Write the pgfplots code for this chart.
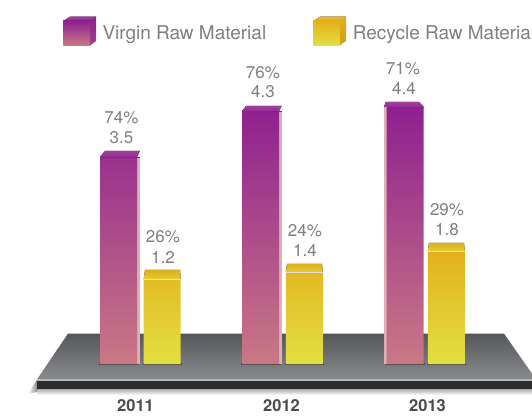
\documentclass[border=0pt]{standalone}
\usepackage{fontspec}
\setmainfont{TeX Gyre Heros}
\usepackage{pgfplots}
\usepackage{pgfplotstable}
\pgfplotsset{compat=1.18}
\definecolor{purT}{HTML}{8E2090}
\definecolor{purB}{HTML}{CA7885}
\definecolor{yelT}{HTML}{E4B01C}
\definecolor{yelB}{HTML}{E2E042}
\definecolor{lab}{HTML}{7F7F7F}
\definecolor{band}{HTML}{2C2E2D}
\definecolor{platT}{HTML}{565758}
\definecolor{platB}{HTML}{8A8B8F}
\definecolor{topP}{HTML}{A0409A}
\definecolor{shad}{HTML}{A8A39C}
% x centre of bar, bar height as drawn in the picture (value labels printed beside)
\pgfplotstableread{
x height
118.5 207
260.5 253
405.2 257
}\virgin
\pgfplotstableread{
x height
162.2 85
304.3 92
446.3 113
}\recycle
\begin{document}
\begin{tikzpicture}
\useasboundingbox (0,0) rectangle (532pt,415pt);
\clip (0,0) rectangle (532pt,415pt);
\begin{axis}[at={(0,0)},anchor=south west,x=1pt,y=1pt,xmin=0,xmax=532,ymin=-51,ymax=364,
  hide axis,clip=false,scale only axis,ybar,bar shift=0pt,bar width=37]
% platform
\shade[top color=shad,bottom color=white] (37,-24.5) rectangle (532,-31);
\shade[left color=white,right color=black!45] (28,-30) -- (37,-15.4) -- (37,-28) -- cycle;
\shade[top color=platT,bottom color=platB] (68,30.4) -- (504,30.4) -- (536,-15.4) -- (37,-15.4) -- cycle;
\fill[black!28] (37,-15.4) rectangle (532,-17);
\fill[band] (37,-17) rectangle (532,-24.5);
% base shadows
\fill[black!70] (98.8,-1) rectangle (139,1);
\fill[black!70] (142.8,-1) rectangle (182,1);
\fill[black!70] (241,-1) rectangle (281,1);
\fill[black!70] (285.3,-1) rectangle (323.5,1);
\fill[black!70] (385,-1) rectangle (425,1);
\fill[black!70] (427,-1) rectangle (466,1);
% side faces
\fill[purB!60!white] (137,0) rectangle (139.8,207);
\fill[purB!60!white] (278,0) rectangle (281.7,253);
\fill[purB!60!white] (384.3,0) rectangle (387,257);
\addplot[draw=none,top color=purT,bottom color=purB] table[x=x,y=height] {\virgin};
\addplot[draw=none,top color=yelT,bottom color=yelB] table[x=x,y=height] {\recycle};
% top faces
\fill[top color=topP,bottom color=purT!95!white] (99.9,207) -- (137,207) -- (139.8,213) -- (105,213) -- cycle;
\fill[top color=topP,bottom color=purT!95!white] (242,253) -- (279,253) -- (281.7,258) -- (246,258) -- cycle;
\fill[top color=topP,bottom color=purT!95!white] (384.3,257) -- (423.7,257) -- (419,262) -- (385.5,262) -- cycle;
\draw[line width=0.7pt,color=red!55!purT] (99.9,207) -- (139.8,207);
\draw[line width=0.7pt,color=red!55!purT] (242,253) -- (281.7,253);
\draw[line width=0.7pt,color=red!55!purT] (386.7,257) -- (423.7,257);
\fill[top color=yelT!90!black!20!yelT,bottom color=yelB!60!yelT] (143.7,85) -- (180.7,85) -- (180,94) -- (145,94) -- cycle;
\fill[top color=yelT!90!black!20!yelT,bottom color=yelB!60!yelT] (285.8,92) -- (322.8,92) -- (322,100) -- (287,100) -- cycle;
\fill[top color=yelT!90!black!20!yelT,bottom color=yelB!60!yelT] (427.8,113) -- (464.8,113) -- (464,121) -- (429,121) -- cycle;
\draw[line width=0.8pt,color=black!12] (143.7,85) -- (180.7,85);
\draw[line width=0.8pt,color=black!12] (285.8,92) -- (322.8,92);
\draw[line width=0.8pt,color=black!12] (427.8,113) -- (464.8,113);
% value labels
\begin{scope}[every node/.style={font=\fontsize{17}{19}\selectfont,text=lab,align=center,inner sep=0pt,anchor=center}]
\node at (121.5,246) {74\%};
\node at (121.5,226) {3.5};
\node at (163,127) {26\%};
\node at (163,107) {1.2};
\node at (263,291) {76\%};
\node at (263,272) {4.3};
\node at (305,133) {24\%};
\node at (305,114) {1.4};
\node at (403,295) {71\%};
\node at (404,276) {4.4};
\node at (447,154) {29\%};
\node at (447,134) {1.8};
\end{scope}
% year labels
\begin{scope}[every node/.style={font=\fontsize{16.5}{19}\selectfont\bfseries,text=black!70,inner sep=0pt}]
\node at (135.5,-41.5) {2011};
\node at (281.5,-41.5) {2012};
\node at (427.5,-41.5) {2013};
\end{scope}
% legend
\fill[top color=topP,bottom color=purT!95!white] (63.3,343) -- (90,343) -- (96,347.3) -- (70,347.3) -- cycle;
\shade[top color=purT,bottom color=purT!65!purB] (90,318.4) -- (96,323) -- (96,347.3) -- (90,343) -- cycle;
\shade[top color=purT,bottom color=purB] (63.3,318.4) rectangle (90,343);
\fill[top color=yelT!90!white,bottom color=yelT] (313.3,343) -- (339.3,343) -- (346,347.3) -- (320,347.3) -- cycle;
\shade[top color=yelT,bottom color=yelT!90!black] (339.3,318.4) -- (346,323) -- (346,347.3) -- (339.3,343) -- cycle;
\shade[top color=yelT,bottom color=yelB] (313.3,318.4) rectangle (339.3,343);
\node[font=\fontsize{19}{22}\selectfont,text=lab,anchor=base west,inner sep=0pt] at (102.3,324.5) {Virgin Raw Material};
\node[font=\fontsize{19}{22}\selectfont,text=lab,anchor=base west,inner sep=0pt] at (352.7,324.5) {Recycle Raw Material};
\end{axis}
\end{tikzpicture}
\end{document}
